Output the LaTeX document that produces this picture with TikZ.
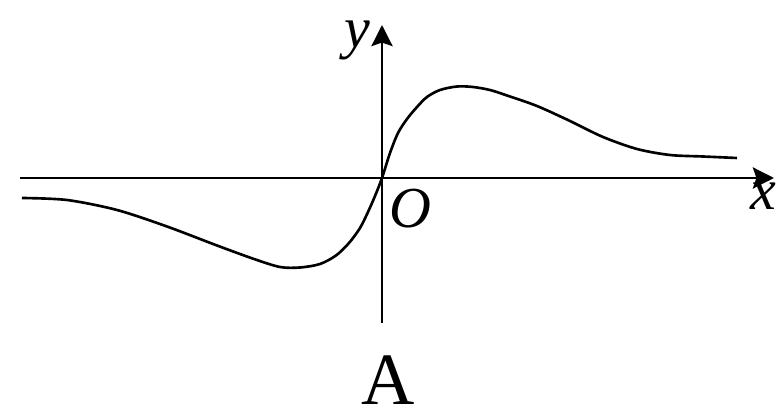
\documentclass[tikz,border=0pt]{standalone}
\usepackage{fontspec}
\setmainfont{Liberation Serif}
\usepackage{tikz}
\usetikzlibrary{positioning, arrows.meta}

\begin{document}
\begin{tikzpicture}[
    axisline/.style={-{Stealth[length=12pt, width=12pt, inset=2pt]}, line width=1.6pt, draw=black},
    graphline/.style={line width=1.5pt, draw=black, smooth, tension=0.5},
    varlabel/.style={font=\fontsize{33}{38}\selectfont\itshape, inner sep=0pt},
    caplabel/.style={font=\fontsize{42}{48}\selectfont, inner sep=0pt}
]
\useasboundingbox (-7.64,-4.76) rectangle (7.92,3.56);

% axes
\coordinate (O) at (0,0);
\coordinate (xstart) at (-7.24,0);
\coordinate (xend) at (7.84,0);
\coordinate (ystart) at (0,-2.9);
\coordinate (yend) at (0,3.06);
\draw[axisline] (xstart) -- (xend);
\draw[axisline] (ystart) -- (yend);

\node[varlabel] (ylabel) at (-0.5,2.76) {y};
\node[varlabel] (xlabel) at (7.62,-0.36) {x};
\node[varlabel] (olabel) at (0.56,-0.62) {O};
\node[caplabel, anchor=base] (choice) at (0.12,-4.54) {A};

% graph of the function
\draw[graphline] plot coordinates {
    (-7.2,-0.40) (-6.3,-0.44) (-5.3,-0.64) (-4.3,-0.97) (-3.3,-1.35)
    (-2.56,-1.62) (-2.04,-1.78) (-1.64,-1.79) (-1.24,-1.72) (-0.92,-1.55)
    (-0.66,-1.30) (-0.44,-1.00) (-0.28,-0.68) (-0.14,-0.36) (0,0)
    (0.16,0.5) (0.32,0.9) (0.5,1.18) (0.7,1.42) (0.9,1.62) (1.16,1.76)
    (1.5,1.83) (1.82,1.82) (2.16,1.76) (2.5,1.65) (3.1,1.44) (3.76,1.14)
    (4.42,0.82) (5.1,0.58) (5.76,0.46) (6.42,0.43) (7.1,0.40)
};
\end{tikzpicture}
\end{document}
